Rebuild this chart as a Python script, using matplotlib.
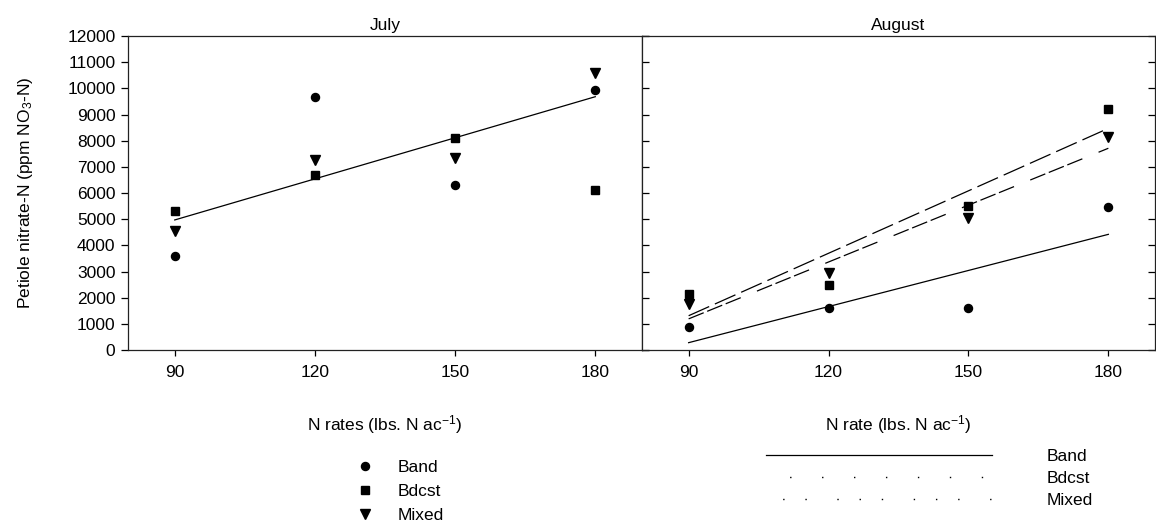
import matplotlib
matplotlib.use("Agg")
import matplotlib.pyplot as plt
from matplotlib.lines import Line2D
import numpy as np

plt.rcParams['font.family'] = ['Liberation Sans', 'DejaVu Sans']
plt.rcParams['mathtext.default'] = 'regular'
FS = 12.5
plt.rcParams['font.size'] = FS

# ---------------- data ----------------
n_rates = [90, 120, 150, 180]
xtick_labels = ["90", "120", "150", "180"]
yticks = list(range(0, 12001, 1000))

july_band = [3600, 9650, 6300, 9950]
july_bdcst = [5300, 6700, 8100, 6100]
july_mixed = [4550, 7250, 7350, 10600]
july_fit_x = [90, 180]
july_fit = [4970, 9680]

aug_band = [870, 1600, 1600, 5450]
aug_bdcst = [2150, 2500, 5500, 9200]
aug_mixed = [1750, 2950, 5050, 8150]
aug_fit_x = [90, 180]
aug_fit_band = [280, 4420]
aug_fit_bdcst = [1310, 8470]
aug_fit_mixed = [1190, 7710]

series_names = ["Band", "Bdcst", "Mixed"]
panel_titles = ["July", "August"]

# ---------------- figure ----------------
W, H = 1156, 527
fig = plt.figure(figsize=(W / 100, H / 100), dpi=100)

def fx(px):
    return px / W

def fy(py):
    return 1 - py / H

ax1 = fig.add_axes([fx(128), fy(350), (642 - 128) / W, (350 - 36) / H])
ax2 = fig.add_axes([fx(642), fy(350), (1155 - 642) / W, (350 - 36) / H])

ms_c, ms_s, ms_t = 5.8, 6.0, 7.5
mk = dict(color='black', linestyle='none')

for ax in (ax1, ax2):
    ax.set_xlim(80, 190)
    ax.set_ylim(0, 12000)
    ax.set_xticks(n_rates)
    ax.set_xticklabels(xtick_labels)
    ax.set_yticks(yticks)
    for sp in ax.spines.values():
        sp.set_linewidth(0.9)
        sp.set_color('#222222')
    ax.tick_params(axis='x', direction='out', length=4, width=0.9, pad=7, labelsize=FS)

ax1.tick_params(axis='y', which='both', left=True, right=True, labelsize=FS, width=0.9)
ax1.yaxis.set_tick_params(which='major', direction='out', length=5)
for t in ax1.yaxis.get_major_ticks():
    t.tick2line.set_marker(matplotlib.markers.TICKLEFT)
    t.tick2line.set_markersize(5)
ax1.tick_params(axis='y', pad=4)

ax2.tick_params(axis='y', left=True, right=True, labelleft=False, direction='in', length=5, width=0.9)

# July
ax1.plot(n_rates, july_band, marker='o', ms=ms_c, **mk)
ax1.plot(n_rates, july_bdcst, marker='s', ms=ms_s, **mk)
ax1.plot(n_rates, july_mixed, marker='v', ms=ms_t, **mk)
ax1.plot(july_fit_x, july_fit, color='black', lw=0.9)

# August
ax2.plot(n_rates, aug_band, marker='o', ms=ms_c, **mk)
ax2.plot(n_rates, aug_bdcst, marker='s', ms=ms_s, **mk)
ax2.plot(n_rates, aug_mixed, marker='v', ms=ms_t, **mk)
ax2.plot(aug_fit_x, aug_fit_band, color='black', lw=0.9)
ax2.plot(aug_fit_x, aug_fit_bdcst, color='black', lw=0.9, linestyle=(0, (18, 5)))
ax2.plot(aug_fit_x, aug_fit_mixed, color='black', lw=0.9, linestyle=(0, (13, 3, 13, 3, 13, 14)))

ax1.set_title(panel_titles[0], fontsize=FS, pad=4)
ax2.set_title(panel_titles[1], fontsize=FS, pad=4)

ax1.set_xlabel("N rates (lbs. N ac$^{-1}$)", fontsize=FS)
ax1.xaxis.set_label_coords(0.5, -0.2)
ax2.set_xlabel("N rate (lbs. N ac$^{-1}$)", fontsize=FS)
ax2.xaxis.set_label_coords(0.5, -0.2)
ax1.set_ylabel("Petiole nitrate-N (ppm NO$_3$-N)", fontsize=FS)
ax1.yaxis.set_label_coords(-0.18, 0.5)

# Legends
mh = [Line2D([], [], marker='o', ms=ms_c, **mk),
      Line2D([], [], marker='s', ms=ms_s, **mk),
      Line2D([], [], marker='v', ms=ms_t, **mk)]
fig.legend(mh, series_names, loc='upper left', bbox_to_anchor=(fx(358), fy(460)),
           frameon=False, fontsize=FS, handlelength=0.8, handletextpad=1.5,
           labelspacing=0.5, borderpad=0, borderaxespad=0)

lh = [Line2D([], [], color='black', lw=0.9),
      Line2D([], [], color='black', lw=1.0, linestyle=(6, (1, 22))),
      Line2D([], [], color='black', lw=1.0, linestyle=(4, (1, 15, 1, 15, 1, 22)))]
fig.legend(lh, series_names, loc='upper left', bbox_to_anchor=(fx(766), fy(449)),
           frameon=False, fontsize=FS, handlelength=13.0, handletextpad=3.15,
           labelspacing=0.4, borderpad=0, borderaxespad=0)

fig.savefig("out.png", dpi=100)
